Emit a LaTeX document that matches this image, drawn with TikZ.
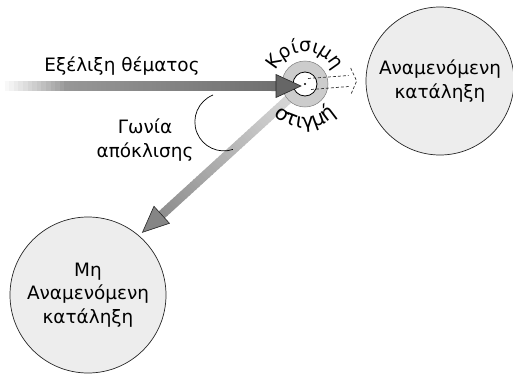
\documentclass[tikz,border=0pt]{standalone}
\usepackage{fontspec}
\setmainfont{DejaVu Sans}
\usetikzlibrary{calc,decorations.text}

\begin{document}
\begin{tikzpicture}[
        x=1bp, y=1bp,
        every node/.style={align=center, font=\fontsize{18.5}{23.5}\selectfont},
        outcome/.style={circle, draw=black!85, line width=0.7bp, fill=black!7, inner sep=0pt},
        headshape/.style={draw=black!85, line width=0.6bp, line join=miter},
        ghost/.style={dash pattern=on 3bp off 2bp, line width=0.7bp, black!80}
        ]
        \useasboundingbox (0,0) rectangle (513,373);

        \node[outcome, minimum size=148bp] (expected) at (440,292) {Αναμενόμενη\\κατάληξη};
        \node[outcome, minimum size=156bp] (unexpected) at (88,78) {Μη\\Αναμενόμενη\\κατάληξη};
        \node[circle, minimum size=46bp, inner sep=0pt] (crit) at (305,289) {};
        \node (evo label) at (122,307) {Εξέλιξη θέματος};
        \node (angle label) at (145,233) {Γωνία\\απόκλισης};

        \coordinate (evo start) at (0,287);
        \coordinate (evo tip) at (301,287);
        \coordinate (evo base) at ($(evo tip)!25bp!(evo start)$);
        \coordinate (dev tip) at ($(unexpected.center)!1.06!(unexpected.49)$);
        \coordinate (dev start) at ($(crit.center)!20bp!(dev tip)$);
        \coordinate (dev base) at ($(dev tip)!26bp!(dev start)$);
        \coordinate (ghost end) at ($(expected.west)+(-17,-3)$);
        \coordinate (angle from) at (213,278);

        \foreach \i in {0,...,39}{
            \pgfmathsetmacro\fa{\i/40}
            \pgfmathsetmacro\fb{(\i+1.3)/40}
            \pgfmathsetmacro\tone{16+28*\i/39}
            \draw[line width=9bp, black!\tone] ($(dev start)!\fa!(dev base)$) -- ($(dev start)!\fb!(dev base)$);
        }
        \filldraw[headshape, fill=black!48] (dev tip) -- ($(dev base)!11.5bp!90:(dev tip)$) -- ($(dev base)!11.5bp!-90:(dev tip)$) -- cycle;

        \filldraw[fill=black!20, draw=black!50, line width=0.5bp] (crit.center) circle[radius=23bp];
        \filldraw[fill=white, draw=black, line width=0.8bp] (crit.center) circle[radius=12bp];
        \fill (crit.center) circle[radius=1.1bp];

        \draw[ghost] ($(crit.center)+(3,5.5)$) -- ($(ghost end)+(0,8.5)$);
        \draw[ghost] ($(crit.center)+(6,-5.5)$) -- ($(ghost end)+(0,-2.5)$);
        \draw[ghost] ($(ghost end)+(2,16)$) -- ($(ghost end)+(8,3)$) -- ($(ghost end)+(2,-11)$);

        \foreach \i in {0,...,59}{
            \pgfmathsetmacro\fa{\i/60}
            \pgfmathsetmacro\fb{(\i+1.3)/60}
            \pgfmathsetmacro\tone{min(1,\i/14)*(36+20*\i/59)}
            \draw[line width=10bp, black!\tone] ($(evo start)!\fa!(evo base)$) -- ($(evo start)!\fb!(evo base)$);
        }
        \filldraw[headshape, fill=black!60] (evo tip) -- ($(evo base)!11.5bp!90:(evo tip)$) -- ($(evo base)!11.5bp!-90:(evo tip)$) -- cycle;

        \draw[line width=0.7bp] (angle from) arc[start angle=112, end angle=288, radius=29bp];

        \path[decorate, decoration={text along path, text align=center,
            text={|\fontsize{19}{19}\selectfont|Κρίσιμη}}]
            ($(crit.center)+(165:32bp)$) arc[start angle=165, end angle=15, radius=32bp];
        \path[decorate, decoration={text along path, text align=center,
            text={|\fontsize{20.5}{20.5}\selectfont|στιγμή}}]
            ($(crit.center)+(195:44bp)$) arc[start angle=195, end angle=345, radius=44bp];
\end{tikzpicture}
\end{document}
